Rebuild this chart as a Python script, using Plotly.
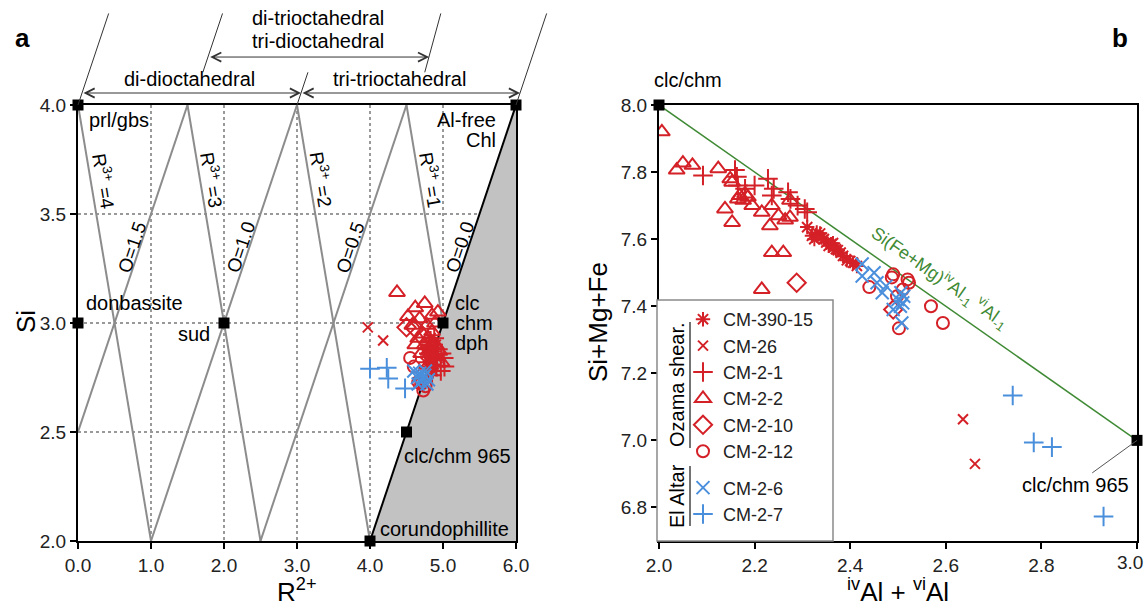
import plotly.graph_objects as go

W, H = 1148, 613
FONT = "Liberation Sans, Arial, sans-serif"
RED = "#d42027"
BLUE = "#4a8fdc"
GRAYLINE = "#8c8c8c"

# ---------------- data: panel a (R2+ vs Si) ----------------
a_cm390_x = [4.78, 4.82, 4.80, 4.85, 4.88, 4.76, 4.90, 4.83, 4.79, 4.86, 4.81, 4.84, 4.92, 4.77, 4.87]
a_cm390_y = [2.88, 2.85, 2.91, 2.83, 2.87, 2.82, 2.90, 2.93, 2.80, 2.78, 2.86, 2.89, 2.84, 2.86, 2.81]
a_cm26_x = [3.97, 4.18]
a_cm26_y = [2.98, 2.92]
a_cm21_x = [4.97, 5.02, 4.90, 4.85, 4.93, 4.88, 4.98, 4.83, 4.80, 5.01, 4.91, 4.86]
a_cm21_y = [2.78, 2.80, 2.83, 2.76, 2.88, 2.93, 2.86, 2.90, 2.79, 2.84, 2.80, 2.85]
a_cm22_x = [4.37, 4.62, 4.75, 4.93, 4.52, 4.68, 4.85, 4.58, 4.78, 4.89, 4.72, 4.80, 4.66, 4.85, 4.75, 4.90, 4.95, 4.70, 4.98, 4.80, 4.62]
a_cm22_y = [3.14, 3.07, 3.09, 3.05, 3.03, 3.02, 3.035, 2.99, 2.99, 3.00, 2.95, 2.93, 2.93, 2.96, 2.90, 2.90, 2.87, 2.86, 2.82, 2.87, 2.90]
a_cm210_x = [4.50, 4.62]
a_cm210_y = [2.98, 2.975]
a_cm212_x = [4.55, 4.66, 4.73, 4.60, 4.70, 4.76]
a_cm212_y = [2.84, 2.73, 2.69, 2.80, 2.72, 2.71]
a_cm26b_x = [4.60, 4.65, 4.70, 4.75, 4.78, 4.68, 4.72, 4.80, 4.66, 4.76]
a_cm26b_y = [2.78, 2.75, 2.73, 2.76, 2.72, 2.77, 2.75, 2.74, 2.72, 2.78]
a_cm27_x = [4.00, 4.23, 4.25, 4.48]
a_cm27_y = [2.79, 2.795, 2.745, 2.70]

# ---------------- data: panel b (ivAl+viAl vs Si+Mg+Fe) ----------------
b_cm390_x = [2.31, 2.32, 2.33, 2.337, 2.345, 2.35, 2.36, 2.364, 2.37, 2.374, 2.38, 2.385, 2.393, 2.40, 2.406, 2.414, 2.325, 2.355, 2.34, 2.365]
b_cm390_y = [7.636, 7.61, 7.62, 7.617, 7.60, 7.59, 7.585, 7.588, 7.57, 7.567, 7.56, 7.55, 7.537, 7.535, 7.53, 7.52, 7.60, 7.58, 7.605, 7.575]
b_cm26_x = [2.636, 2.661]
b_cm26_y = [7.063, 6.93]
b_cm21_x = [2.092, 2.159, 2.163, 2.165, 2.20, 2.228, 2.236, 2.27, 2.275, 2.29, 2.31, 2.305, 2.18, 2.24]
b_cm21_y = [7.79, 7.806, 7.786, 7.76, 7.76, 7.78, 7.73, 7.74, 7.72, 7.70, 7.68, 7.69, 7.75, 7.75]
b_cm22_x = [2.006, 2.037, 2.05, 2.07, 2.124, 2.149, 2.153, 2.169, 2.176, 2.186, 2.195, 2.138, 2.153, 2.215, 2.236, 2.232, 2.264, 2.274, 2.274, 2.236, 2.26, 2.215, 2.165, 2.18, 2.25]
b_cm22_y = [7.92, 7.806, 7.827, 7.82, 7.81, 7.78, 7.77, 7.73, 7.716, 7.725, 7.70, 7.69, 7.65, 7.68, 7.70, 7.64, 7.657, 7.665, 7.716, 7.56, 7.56, 7.45, 7.72, 7.735, 7.67]
b_cm210_x = [2.288, 2.49]
b_cm210_y = [7.47, 7.39]
b_cm212_x = [2.44, 2.487, 2.523, 2.498, 2.502, 2.569, 2.594, 2.51, 2.49, 2.52]
b_cm212_y = [7.457, 7.486, 7.47, 7.43, 7.334, 7.40, 7.35, 7.45, 7.495, 7.48]
b_cm26b_x = [2.425, 2.425, 2.456, 2.467, 2.49, 2.508, 2.506, 2.51, 2.475, 2.50, 2.512, 2.45, 2.505]
b_cm26b_y = [7.526, 7.49, 7.47, 7.44, 7.39, 7.35, 7.44, 7.41, 7.46, 7.42, 7.43, 7.50, 7.40]
b_cm27_x = [2.74, 2.784, 2.822, 2.93]
b_cm27_y = [7.134, 6.994, 6.98, 6.773]

# reference end-members
a_ref_x = [0, 0, 2, 5, 4.5, 4, 6]
a_ref_y = [4, 3, 3, 3, 2.5, 2, 4]
b_ref_x = [2, 3]
b_ref_y = [8, 7]

# diagram construction lines (panel a)
r3_lines = [((0, 4), (1, 2)), ((1.5, 4), (2.5, 2)), ((3, 4), (4, 2)), ((4.5, 4), (5, 3))]
o_lines = [((0, 2.5), (1.5, 4)), ((1, 2), (3, 4)), ((2.5, 2), (4.5, 4))]
gray_region = [(4, 2), (6, 4), (6, 2)]
# octahedral-type boundaries above panel a (data units, beyond the axis top)
top_bounds = [((0, 4), (0.42, 4.42)), ((1.71, 4.15), (1.98, 4.42)), ((3, 4), (3.15, 4.15)),
              ((4.75, 4.15), (4.97, 4.42)), ((6, 4), (6.42, 4.42))]
top_arrows = [((0.055, 4.055), (3.055, 4.055)), ((3.055, 4.055), (6.055, 4.055)),
              ((1.79, 4.22), (4.81, 4.22))]

x_ticks_a = [0, 1, 2, 3, 4, 5, 6]
y_ticks_a = [2.0, 2.5, 3.0, 3.5, 4.0]
x_ticks_b = [2.0, 2.2, 2.4, 2.6, 2.8, 3.0]
x_ticklabels_b = ["2.0", "2.2", "2.4", "2.6", "2.8", "3.0"]
y_ticks_b = [6.8, 7.0, 7.2, 7.4, 7.6, 7.8, 8.0]

series = [
    ("CM-390-15", "asterisk-open", RED, 12, "oz", a_cm390_x, a_cm390_y, b_cm390_x, b_cm390_y),
    ("CM-26", "x-thin-open", RED, 10, "oz", a_cm26_x, a_cm26_y, b_cm26_x, b_cm26_y),
    ("CM-2-1", "cross-thin-open", RED, 14, "oz", a_cm21_x, a_cm21_y, b_cm21_x, b_cm21_y),
    ("CM-2-2", "triangle-up-open", RED, 14, "oz", a_cm22_x, a_cm22_y, b_cm22_x, b_cm22_y),
    ("CM-2-10", "diamond-open", RED, 14, "oz", a_cm210_x, a_cm210_y, b_cm210_x, b_cm210_y),
    ("CM-2-12", "circle-open", RED, 12, "oz", a_cm212_x, a_cm212_y, b_cm212_x, b_cm212_y),
    ("CM-2-6", "x-thin-open", BLUE, 13, "el", a_cm26b_x, a_cm26b_y, b_cm26b_x, b_cm26b_y),
    ("CM-2-7", "cross-thin-open", BLUE, 14, "el", a_cm27_x, a_cm27_y, b_cm27_x, b_cm27_y),
]

# panel geometry (pixels)
A_L, A_R, TOP, BOT = 78, 516, 105, 541
B_L, B_R = 659, 1137
A_XR, A_YR = (0, 6), (2, 4)
B_XR, B_YR = (2, 3), (6.7, 8.0)


def px(x):
    return x / W


def py(y):
    return 1 - y / H


def a_pix(x, y):
    return (A_L + (x - A_XR[0]) / (A_XR[1] - A_XR[0]) * (A_R - A_L),
            BOT - (y - A_YR[0]) / (A_YR[1] - A_YR[0]) * (BOT - TOP))


def b_pix(x, y):
    return (B_L + (x - B_XR[0]) / (B_XR[1] - B_XR[0]) * (B_R - B_L),
            BOT - (y - B_YR[0]) / (B_YR[1] - B_YR[0]) * (BOT - TOP))


fig = go.Figure()

for name, sym, col, size, grp, ax_, ay_, bx_, by_ in series:
    mk = dict(symbol=sym, size=size, color=col, line=dict(width=2, color=col))
    fig.add_trace(go.Scatter(x=ax_, y=ay_, mode="markers", marker=mk, name=name,
                             xaxis="x", yaxis="y", showlegend=False, legendgroup=grp))
    fig.add_trace(go.Scatter(x=bx_, y=by_, mode="markers", marker=mk, name=name,
                             xaxis="x2", yaxis="y2", showlegend=True, legendgroup=grp))

sq = dict(symbol="square", size=11, color="black")
fig.add_trace(go.Scatter(x=a_ref_x, y=a_ref_y, mode="markers", marker=sq, showlegend=False,
                         xaxis="x", yaxis="y", cliponaxis=False, hoverinfo="skip"))
fig.add_trace(go.Scatter(x=b_ref_x, y=b_ref_y, mode="markers", marker=sq, showlegend=False,
                         xaxis="x2", yaxis="y2", cliponaxis=False, hoverinfo="skip"))

shapes = []
path = "M " + " L ".join(f"{x} {y}" for x, y in gray_region) + " Z"
shapes.append(dict(type="path", path=path, xref="x", yref="y", fillcolor="#c2c2c2",
                   line=dict(width=0), layer="between"))
shapes.append(dict(type="line", x0=gray_region[0][0], y0=gray_region[0][1], x1=gray_region[1][0],
                   y1=gray_region[1][1], xref="x", yref="y", line=dict(color="black", width=2), layer="between"))
for (p0, p1) in r3_lines + o_lines:
    shapes.append(dict(type="line", x0=p0[0], y0=p0[1], x1=p1[0], y1=p1[1], xref="x", yref="y",
                       line=dict(color=GRAYLINE, width=2), layer="between"))
shapes.append(dict(type="line", x0=b_ref_x[0], y0=b_ref_y[0], x1=b_ref_x[1], y1=b_ref_y[1],
                   xref="x2", yref="y2", line=dict(color="#3f8a34", width=1.5), layer="between"))
for p0, p1 in top_bounds:
    x0, y0 = a_pix(*p0)
    x1, y1 = a_pix(*p1)
    shapes.append(dict(type="line", xref="paper", yref="paper", x0=px(x0), y0=py(y0), x1=px(x1), y1=py(y1),
                       line=dict(color="#333", width=1), layer="above"))
# legend box
LEG_TOP = 300
shapes.append(dict(type="rect", xref="paper", yref="paper", x0=px(657), x1=px(833), y0=py(541), y1=py(LEG_TOP),
                   fillcolor="white", line=dict(color="#8a8a8a", width=1.5), layer="above"))
shapes.append(dict(type="line", xref="paper", yref="paper", x0=px(690), x1=px(690), y0=py(448), y1=py(322),
                   line=dict(color="#444", width=1.5), layer="above"))
shapes.append(dict(type="line", xref="paper", yref="paper", x0=px(690), x1=px(690), y0=py(526), y1=py(466),
                   line=dict(color="#444", width=1.5), layer="above"))

ann = []
for p0, p1 in top_arrows:
    x0, y0 = a_pix(*p0)
    x1, y1 = a_pix(*p1)
    ann.append(dict(x=px(x1), y=py(y1), xref="paper", yref="paper", ax=x0 - x1, ay=y0 - y1,
                    axref="pixel", ayref="pixel", text="", showarrow=True, arrowcolor="#333",
                    arrowwidth=1, arrowhead=5, startarrowhead=5, arrowside="end+start",
                    arrowsize=1.8, startarrowsize=1.8, standoff=0, startstandoff=0))


def txt(x, y, s, size=20, xanchor="center", xref="x", yref="y", angle=0, color="black", bold=False):
    return dict(x=x, y=y, text=(f"<b>{s}</b>" if bold else s), xref=xref, yref=yref, showarrow=False,
                xanchor=xanchor, yanchor="middle", textangle=angle,
                font=dict(family=FONT, size=size, color=color))


def txt_a_out(x, y, s, **kw):
    X, Y = a_pix(x, y)
    return txt(px(X), py(Y), s, xref="paper", yref="paper", **kw)


ann += [
    txt_a_out(3.29, 4.40, "di-trioctahedral"),
    txt_a_out(3.29, 4.294, "tri-dioctahedral"),
    txt_a_out(1.53, 4.12, "di-dioctahedral"),
    txt_a_out(4.41, 4.12, "tri-trioctahedral"),
    txt(0.12, 3.93, "prl/gbs", xanchor="left"),
    txt(0.08, 3.09, "donbassite", xanchor="left"),
    txt(1.84, 2.95, "sud", xanchor="right"),
    txt(5.75, 3.93, "Al-free", xanchor="right"),
    txt(5.75, 3.84, "Chl", xanchor="right"),
    txt(5.14, 3.09, "clc", xanchor="left"),
    txt(5.14, 3.0, "chm", xanchor="left"),
    txt(5.14, 2.91, "dph", xanchor="left"),
    txt(4.44, 2.39, "clc/chm 965", xanchor="left"),
    txt(4.11, 2.055, "corundophillite", xanchor="left"),
]
for xx, yy, v in [(0.36, 3.65, "4"), (1.84, 3.655, "3"), (3.34, 3.66, "2"), (4.84, 3.655, "1")]:
    ann.append(txt(xx, yy, "R<sup>3+</sup> =" + v, size=19, angle=80.5))
for xx, yy, v in [(0.74, 3.347, "1.5"), (2.23, 3.347, "1.0"), (3.73, 3.347, "0.5"), (5.23, 3.347, "0.0")]:
    ann.append(txt(xx, yy, "O=" + v, size=19, angle=-71.4))

# panel b labels
X, Y = b_pix(2.061, 8.075)
ann.append(txt(px(X), py(Y), "clc/chm", xref="paper", yref="paper"))
ann.append(dict(x=3, y=7, xref="x2", yref="y2", text="clc/chm 965", showarrow=True, arrowhead=0,
                arrowwidth=1, arrowcolor="#555", ax=-62, ay=45,
                font=dict(family=FONT, size=20, color="black")))
ann.append(txt(2.588, 7.487, "Si(Fe+Mg)<sup>iv</sup>Al<sub>-1</sub> <sup>vi</sup>Al<sub>-1</sub>",
               size=18, xref="x2", yref="y2", angle=35, color="#3f8a34"))
# last x tick label of panel b is nudged left to stay inside the figure
X, _ = b_pix(x_ticks_b[-1], B_YR[0])
ann.append(txt(px(X - 7), py(562), x_ticklabels_b[-1], size=19, xref="paper", yref="paper", color="#222"))
# legend group titles
ann.append(txt(px(677), py(385), "Ozama shear.", xref="paper", yref="paper", angle=-90))
ann.append(txt(px(677), py(496), "El Altar", xref="paper", yref="paper", angle=-90))
# axis titles
ann.append(txt(px(26), py(322), "Si", size=26, xref="paper", yref="paper", angle=-90))
ann.append(txt(px(297), py(590), "R<sup>2+</sup>", size=26, xref="paper", yref="paper"))
ann.append(txt(px(598), py(322), "Si+Mg+Fe", size=26, xref="paper", yref="paper", angle=-90))
ann.append(txt(px(898), py(590), "<sup>iv</sup>Al + <sup>vi</sup>Al", size=26, xref="paper", yref="paper"))
# panel letters
ann.append(txt(px(22), py(38), "a", size=26, xref="paper", yref="paper", bold=True))
ann.append(txt(px(1120), py(38), "b", size=26, xref="paper", yref="paper", bold=True))

axis_common = dict(showline=True, linecolor="black", linewidth=2, mirror=True, ticks="outside",
                   ticklen=6, tickwidth=2, tickcolor="black", zeroline=False, automargin=False,
                   tickformat=".1f", tickfont=dict(family=FONT, size=19, color="#222"))

fig.update_layout(
    width=W, height=H, margin=dict(l=0, r=0, t=0, b=0),
    paper_bgcolor="white", plot_bgcolor="white",
    font=dict(family=FONT, color="black"),
    xaxis=dict(domain=[px(A_L), px(A_R)], range=list(A_XR), tickvals=x_ticks_a,
               showgrid=True, gridcolor="#999", griddash="dot", gridwidth=1.5, anchor="y", **axis_common),
    yaxis=dict(domain=[py(BOT), py(TOP)], range=list(A_YR), tickvals=y_ticks_a,
               showgrid=True, gridcolor="#999", griddash="dot", gridwidth=1.5, anchor="x", **axis_common),
    xaxis2=dict(domain=[px(B_L), px(B_R)], range=list(B_XR), tickvals=x_ticks_b,
                ticktext=x_ticklabels_b[:-1] + [""],
                showgrid=False, anchor="y2", **axis_common),
    yaxis2=dict(domain=[py(BOT), py(TOP)], range=list(B_YR), tickvals=y_ticks_b,
                showgrid=False, anchor="x2", **axis_common),
    legend=dict(x=px(683), y=py(301), xanchor="left", yanchor="top", bgcolor="rgba(0,0,0,0)",
                font=dict(family=FONT, size=18, color="#222"), traceorder="grouped",
                tracegroupgap=10, itemwidth=30),
    shapes=shapes, annotations=ann,
)

fig.write_html("out.html")
